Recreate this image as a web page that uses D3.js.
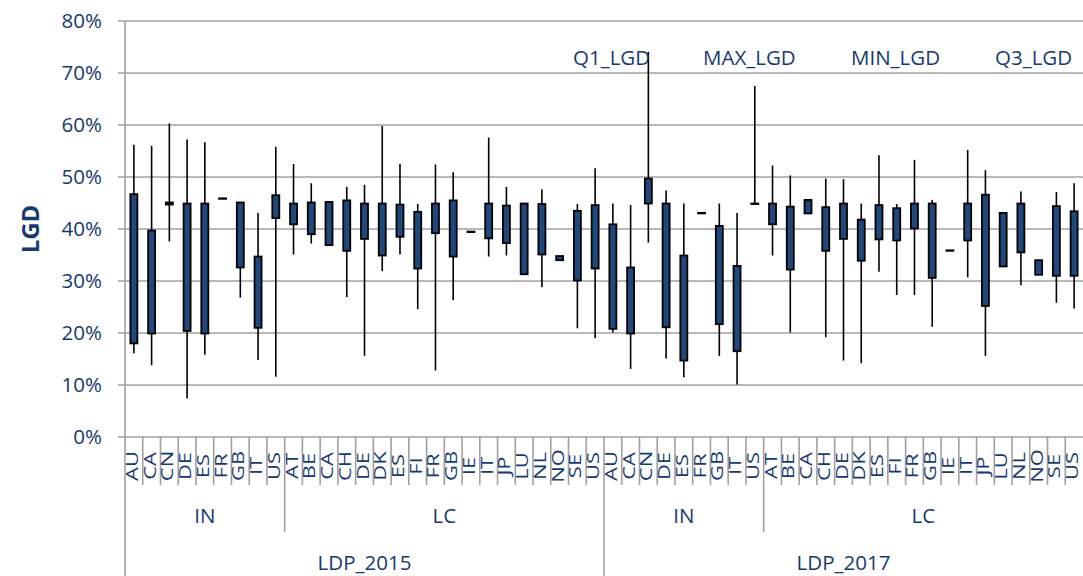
<!DOCTYPE html>
<html>
<head>
<meta charset="utf-8">
<script src="https://cdn.jsdelivr.net/npm/d3@7"></script>
<style>
  body { margin: 0; background: #fff; }
  text { font-family: "Open Sans", "Noto Sans", sans-serif; fill: #163a70; }
</style>
</head>
<body>
<script>
// categories (year > segment > country)
var years = ["LDP_2015", "LDP_2017"];
var segments = ["IN", "LC"];
var countriesIN = ["AU", "CA", "CN", "DE", "ES", "FR", "GB", "IT", "US"];
var countriesLC = ["AT", "BE", "CA", "CH", "DE", "DK", "ES", "FI", "FR", "GB", "IE", "IT", "JP", "LU", "NL", "NO", "SE", "US"];

// LGD values
var min2015IN = [.161, .138, .376, .074, .158, .459, .268, .148, .116];
var q1_2015IN = [.180, .199, .447, .204, .199, .459, .326, .210, .421];
var q3_2015IN = [.467, .397, .451, .449, .449, .459, .451, .347, .465];
var max2015IN = [.562, .560, .603, .572, .567, .459, .451, .431, .558];

var min2015LC = [.351, .372, .369, .269, .156, .319, .351, .246, .128, .263, .395, .347, .349, .313, .288, .340, .209, .190];
var q1_2015LC = [.409, .390, .369, .358, .381, .349, .385, .324, .392, .347, .395, .382, .373, .313, .351, .340, .301, .324];
var q3_2015LC = [.449, .451, .452, .455, .449, .449, .447, .433, .449, .455, .395, .449, .445, .449, .448, .348, .435, .446];
var max2015LC = [.525, .488, .452, .481, .485, .598, .525, .448, .524, .509, .395, .576, .481, .449, .476, .348, .448, .517];

var min2017IN = [.201, .131, .374, .151, .115, .431, .156, .101, .449];
var q1_2017IN = [.208, .199, .449, .211, .147, .431, .217, .165, .449];
var q3_2017IN = [.409, .326, .497, .449, .349, .431, .406, .329, .449];
var max2017IN = [.449, .446, .741, .474, .449, .431, .449, .431, .675];

var min2017LC = [.349, .201, .430, .192, .147, .142, .318, .273, .273, .212, .359, .307, .156, .328, .292, .312, .258, .247];
var q1_2017LC = [.409, .322, .430, .358, .381, .339, .380, .378, .401, .306, .359, .378, .252, .328, .355, .312, .310, .310];
var q3_2017LC = [.449, .443, .456, .442, .449, .418, .446, .440, .449, .449, .359, .449, .466, .431, .449, .340, .444, .434];
var max2017LC = [.522, .503, .456, .497, .496, .449, .542, .448, .533, .456, .359, .552, .513, .431, .472, .340, .471, .488];

var yTicks = [0, .1, .2, .3, .4, .5, .6, .7, .8];
var legendNames = ["Q1_LGD", "MAX_LGD", "MIN_LGD", "Q3_LGD"];

// flatten into rows
var blocks = [
  [years[0], segments[0], countriesIN, min2015IN, q1_2015IN, q3_2015IN, max2015IN],
  [years[0], segments[1], countriesLC, min2015LC, q1_2015LC, q3_2015LC, max2015LC],
  [years[1], segments[0], countriesIN, min2017IN, q1_2017IN, q3_2017IN, max2017IN],
  [years[1], segments[1], countriesLC, min2017LC, q1_2017LC, q3_2017LC, max2017LC]
];
var rows = [];
blocks.forEach(function(b) {
  b[2].forEach(function(c, i) {
    rows.push({key: b[0] + "|" + b[1] + "|" + c, year: b[0], seg: b[1], c: c,
               min: b[3][i], q1: b[4][i], q3: b[5][i], max: b[6][i]});
  });
});

var W = 1083, H = 576;
var plotL = 125, plotR = 1083, plotT = 21, plotB = 437;

var svg = d3.select("body").append("svg")
    .attr("width", W)
    .attr("height", H);

var x = d3.scaleBand()
    .domain(rows.map(function(d) { return d.key; }))
    .range([plotL, plotR])
    .padding(0);

var y = d3.scaleLinear()
    .domain([0, .8])
    .range([plotB, plotT]);

var grid = "#a0a0a0";

//gridlines
svg.append("g").selectAll("line")
  .data(yTicks)
  .enter().append("line")
    .attr("x1", plotL - 7).attr("x2", plotR)
    .attr("y1", function(d) { return y(d); })
    .attr("y2", function(d) { return y(d); })
    .attr("stroke", grid)
    .attr("stroke-width", 1.6);

//y tick labels
svg.append("g").selectAll("text")
  .data(yTicks)
  .enter().append("text")
    .attr("x", 102)
    .attr("y", function(d) { return y(d) + 7; })
    .attr("text-anchor", "end")
    .attr("font-size", 20.5)
    .text(d3.format(".0%"));

//axis title
svg.append("text")
    .attr("transform", "translate(39,229) rotate(-90)")
    .attr("text-anchor", "middle")
    .attr("font-size", 24)
    .attr("font-weight", "bold")
    .text("LGD");

//left axis line
svg.append("line")
    .attr("x1", plotL).attr("x2", plotL)
    .attr("y1", plotT).attr("y2", H)
    .attr("stroke", grid).attr("stroke-width", 1.6);

//category separators, three levels
var bw = x.bandwidth();
svg.append("g").selectAll("line")
  .data(rows.slice(1))
  .enter().append("line")
    .attr("x1", function(d) { return x(d.key); })
    .attr("x2", function(d) { return x(d.key); })
    .attr("y1", plotB)
    .attr("y2", function(d, i) {
      var prev = rows[i];
      if (prev.year != d.year) return H;
      if (prev.seg != d.seg) return 532;
      return 485;
    })
    .attr("stroke", grid)
    .attr("stroke-width", 1.6);

//country labels
svg.append("g").selectAll("text")
  .data(rows)
  .enter().append("text")
    .attr("transform", function(d) {
      return "translate(" + (x(d.key) + bw / 2 + 4) + ",466) rotate(-90) scale(1,0.7)";
    })
    .attr("text-anchor", "middle")
    .attr("font-size", 22)
    .attr("font-weight", 500)
    .text(function(d) { return d.c; });

//segment labels
var segGroups = d3.groups(rows, function(d) { return d.year + "|" + d.seg; });
svg.append("g").selectAll("text")
  .data(segGroups)
  .enter().append("text")
    .attr("x", function(g) {
      var r = g[1];
      return (x(r[0].key) + x(r[r.length - 1].key) + bw) / 2;
    })
    .attr("y", 523)
    .attr("text-anchor", "middle")
    .attr("font-size", 20.5)
    .text(function(g) { return g[1][0].seg; });

//year labels
var yearGroups = d3.groups(rows, function(d) { return d.year; });
svg.append("g").selectAll("text")
  .data(yearGroups)
  .enter().append("text")
    .attr("x", function(g) {
      var r = g[1];
      return (x(r[0].key) + x(r[r.length - 1].key) + bw) / 2;
    })
    .attr("y", 570)
    .attr("text-anchor", "middle")
    .attr("font-size", 20.5)
    .text(function(g) { return g[0]; });

//whiskers
svg.append("g").selectAll("line")
  .data(rows)
  .enter().append("line")
    .attr("x1", function(d) { return x(d.key) + bw / 2; })
    .attr("x2", function(d) { return x(d.key) + bw / 2; })
    .attr("y1", function(d) { return y(d.max); })
    .attr("y2", function(d) { return y(d.min); })
    .attr("stroke", "#000")
    .attr("stroke-width", 1.6);

//boxes
var boxW = 7;
svg.append("g").selectAll("rect")
  .data(rows)
  .enter().append("rect")
    .attr("x", function(d) { return x(d.key) + bw / 2 - boxW / 2; })
    .attr("y", function(d) { return y(d.q3); })
    .attr("width", boxW)
    .attr("height", function(d) { return Math.max(0.5, y(d.q1) - y(d.q3)); })
    .attr("fill", "#1f497d")
    .attr("stroke", "#000")
    .attr("stroke-width", 1.8);

//legend entries (text only)
var legX = [573, 703, 851, 995];
svg.append("g").selectAll("text")
  .data(legendNames)
  .enter().append("text")
    .attr("x", function(d, i) { return legX[i]; })
    .attr("y", 65)
    .attr("font-size", 20.5)
    .text(function(d) { return d; });
</script>
</body>
</html>
